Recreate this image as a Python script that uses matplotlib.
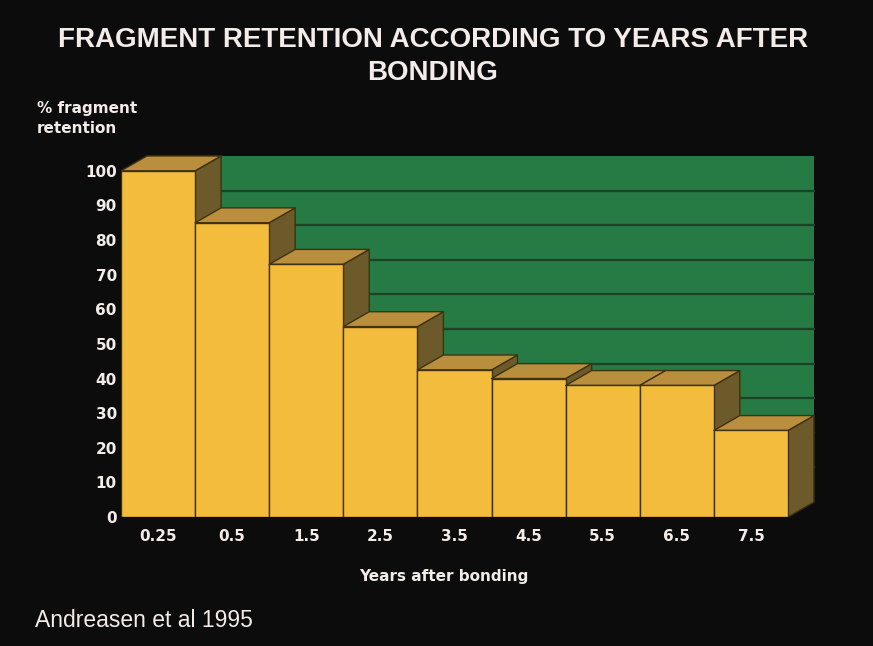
import matplotlib.pyplot as plt
from matplotlib.patches import Polygon

#######################資料########################
years = ["0.25", "0.5", "1.5", "2.5", "3.5", "4.5", "5.5", "6.5", "7.5"]
retention = [100, 85, 73, 55, 42.5, 40, 38, 38, 25]
y_ticks = [0, 10, 20, 30, 40, 50, 60, 70, 80, 90, 100]

#######################樣式########################
BG = "#0c0c0c"
TXT = "#f4ece8"
FRONT = "#f3bc3d"
TOP = "#b98f3e"
SIDE = "#6c5a2a"
EDGE = "#3e3210"
WALL = "#267a44"
GRID = "#1b4326"
DX, DY = 0.35, 4.3  # 立體深度(資料座標)

fig = plt.figure(figsize=(8.73, 6.46), dpi=100, facecolor=BG)
ax = fig.add_axes([0.1386, 0.1997, 0.798, 0.568])
ax.set_facecolor(BG)
n = len(retention)
ax.set_xlim(0, n + 0.4)
ax.set_ylim(0, 106)
for s in ax.spines.values():
    s.set_visible(False)

# 背景牆與格線
ax.add_patch(Polygon([(DX, DY), (n + DX, DY), (n + DX, 100 + DY), (DX, 100 + DY)],
                     closed=True, facecolor=WALL, edgecolor="none", zorder=1))
for t in y_ticks[1:-1]:
    ax.plot([DX, n + DX], [t + DY, t + DY], color=GRID, lw=1.6, zorder=2)

# 立體長條
for i, v in enumerate(retention):
    x0, x1 = i, i + 1
    z = 3 + i
    side = [(x1, 0), (x1 + DX, DY), (x1 + DX, v + DY), (x1, v)]
    top = [(x0, v), (x1, v), (x1 + DX, v + DY), (x0 + DX, v + DY)]
    front = [(x0, 0), (x1, 0), (x1, v), (x0, v)]
    for pts, c in ((side, SIDE), (top, TOP), (front, FRONT)):
        ax.add_patch(Polygon(pts, closed=True, facecolor=c, edgecolor=EDGE,
                             lw=1.0, joinstyle="round", zorder=z))

ax.set_yticks(y_ticks)
ax.set_yticklabels([str(t) for t in y_ticks])
ax.set_xticks([i + 0.5 for i in range(n)])
ax.set_xticklabels(years)
ax.tick_params(length=0, colors=TXT, labelsize=11)
ax.tick_params(axis="y", pad=3)
ax.tick_params(axis="x", pad=9)
for lab in ax.get_xticklabels() + ax.get_yticklabels():
    lab.set_fontweight("bold")
    lab.set_fontfamily("DejaVu Sans")

#######################文字########################
fig.text(0.496, 0.913, "FRAGMENT RETENTION ACCORDING TO YEARS AFTER\nBONDING",
         ha="center", va="center", color=TXT, fontsize=20, fontweight="bold",
         family="Liberation Sans", linespacing=1.35)
fig.text(0.042, 0.817, "% fragment\nretention", ha="left", va="center",
         color=TXT, fontsize=11, fontweight="bold", family="DejaVu Sans",
         linespacing=1.45)
fig.text(0.508, 0.107, "Years after bonding", ha="center", va="center",
         color=TXT, fontsize=11, fontweight="bold", family="DejaVu Sans")
fig.text(0.040, 0.039, "Andreasen et al 1995", ha="left", va="center",
         color=TXT, fontsize=16.5, family="Liberation Sans")

fig.savefig("out.png", dpi=100, facecolor=BG)
